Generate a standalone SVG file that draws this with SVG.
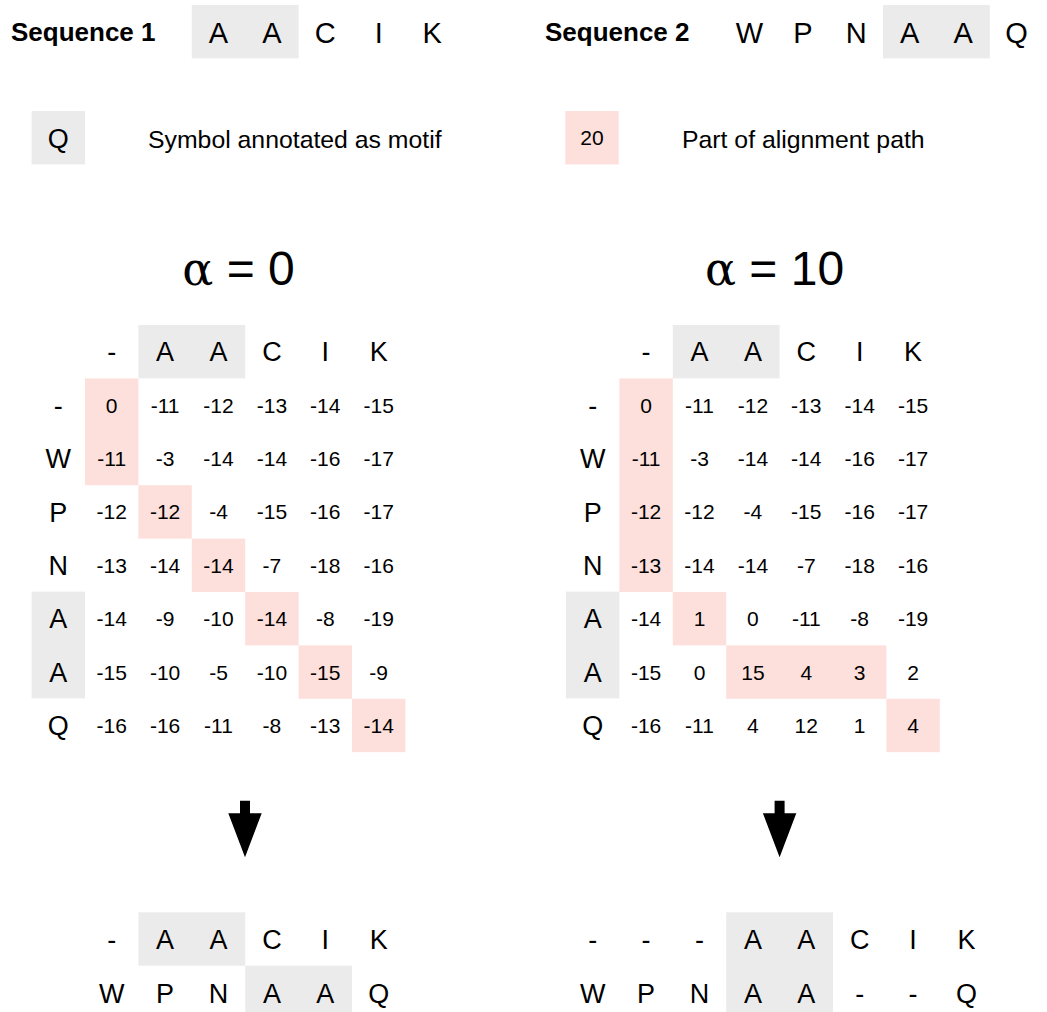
<svg xmlns="http://www.w3.org/2000/svg" width="1047" height="1012" viewBox="0 0 1047 1012">
<style>
text{font-family:"Liberation Sans",Arial,Helvetica,sans-serif;fill:#000;text-anchor:middle}
.hd{font-weight:bold;font-size:26px;text-anchor:start}
.sq{font-size:29px}
.lt{font-size:27px}
.nm{font-size:21px}
.lg{font-size:24.8px;text-anchor:start}
.ti{font-size:48px}
text tspan.al{font-family:"DejaVu Serif","Liberation Serif",serif;font-size:46px}
.g{fill:#ebebeb}
.p{fill:#fde0db}
</style>
<rect width="1047" height="1012" fill="#fff"/>

<g id="sequence1">
<text class="hd" x="11" y="41">Sequence 1</text>
<rect class="g" x="191.8" y="5" width="106.8" height="53.4"/>
<text class="sq" x="218.5" y="42.5">A</text>
<text class="sq" x="271.9" y="42.5">A</text>
<text class="sq" x="325.3" y="42.5">C</text>
<text class="sq" x="378.7" y="42.5">I</text>
<text class="sq" x="432.1" y="42.5">K</text>
</g>

<g id="sequence2">
<text class="hd" x="545" y="41">Sequence 2</text>
<rect class="g" x="883" y="5" width="106.8" height="53.4"/>
<text class="sq" x="749.5" y="42.5">W</text>
<text class="sq" x="802.9" y="42.5">P</text>
<text class="sq" x="856.3" y="42.5">N</text>
<text class="sq" x="909.7" y="42.5">A</text>
<text class="sq" x="963.1" y="42.5">A</text>
<text class="sq" x="1016.5" y="42.5">Q</text>
</g>

<g id="legend-motif">
<rect class="g" x="31.6" y="111" width="53.4" height="53.4"/>
<text class="lt" x="58.3" y="147.5">Q</text>
<text class="lg" x="148" y="148">Symbol annotated as motif</text>
</g>

<g id="legend-path">
<rect class="p" x="565.3" y="111" width="53.4" height="53.4"/>
<text class="nm" x="592" y="145">20</text>
<text class="lg" x="682" y="148">Part of alignment path</text>
</g>

<g id="matrix-alpha0">
<text class="ti" x="238.5" y="285"><tspan class="al" font-family="DejaVu Serif">α</tspan> = 0</text>
<rect class="g" x="138.4" y="325" width="106.8" height="53.4"/>
<rect class="g" x="31.6" y="591.6" width="53.4" height="106.8"/>
<rect class="p" x="85" y="378.4" width="53.4" height="106.8"/>
<rect class="p" x="138.4" y="485.2" width="53.4" height="53.4"/>
<rect class="p" x="191.8" y="538.6" width="53.4" height="53.4"/>
<rect class="p" x="245.2" y="592" width="53.4" height="53.4"/>
<rect class="p" x="298.6" y="645.4" width="53.4" height="53.4"/>
<rect class="p" x="352" y="698.8" width="53.4" height="53.4"/>
<g class="lt">
<text x="111.7" y="361.4">-</text><text x="165.1" y="361.4">A</text><text x="218.5" y="361.4">A</text><text x="271.9" y="361.4">C</text><text x="325.3" y="361.4">I</text><text x="378.7" y="361.4">K</text>
<text x="58.3" y="414.8">-</text><text x="58.3" y="468.2">W</text><text x="58.3" y="521.6">P</text><text x="58.3" y="575">N</text><text x="58.3" y="628.4">A</text><text x="58.3" y="681.8">A</text><text x="58.3" y="735.2">Q</text>
</g>
<g class="nm">
<text x="111.7" y="412.6">0</text><text x="165.1" y="412.6">-11</text><text x="218.5" y="412.6">-12</text><text x="271.9" y="412.6">-13</text><text x="325.3" y="412.6">-14</text><text x="378.7" y="412.6">-15</text>
<text x="111.7" y="466">-11</text><text x="165.1" y="466">-3</text><text x="218.5" y="466">-14</text><text x="271.9" y="466">-14</text><text x="325.3" y="466">-16</text><text x="378.7" y="466">-17</text>
<text x="111.7" y="519.4">-12</text><text x="165.1" y="519.4">-12</text><text x="218.5" y="519.4">-4</text><text x="271.9" y="519.4">-15</text><text x="325.3" y="519.4">-16</text><text x="378.7" y="519.4">-17</text>
<text x="111.7" y="572.8">-13</text><text x="165.1" y="572.8">-14</text><text x="218.5" y="572.8">-14</text><text x="271.9" y="572.8">-7</text><text x="325.3" y="572.8">-18</text><text x="378.7" y="572.8">-16</text>
<text x="111.7" y="626.2">-14</text><text x="165.1" y="626.2">-9</text><text x="218.5" y="626.2">-10</text><text x="271.9" y="626.2">-14</text><text x="325.3" y="626.2">-8</text><text x="378.7" y="626.2">-19</text>
<text x="111.7" y="679.6">-15</text><text x="165.1" y="679.6">-10</text><text x="218.5" y="679.6">-5</text><text x="271.9" y="679.6">-10</text><text x="325.3" y="679.6">-15</text><text x="378.7" y="679.6">-9</text>
<text x="111.7" y="733">-16</text><text x="165.1" y="733">-16</text><text x="218.5" y="733">-11</text><text x="271.9" y="733">-8</text><text x="325.3" y="733">-13</text><text x="378.7" y="733">-14</text>
</g>
</g>

<g id="matrix-alpha10">
<text class="ti" x="774.5" y="285"><tspan class="al" font-family="DejaVu Serif">α</tspan> = 10</text>
<rect class="g" x="672.8" y="325" width="106.8" height="53.4"/>
<rect class="g" x="566" y="591.6" width="53.4" height="106.8"/>
<rect class="p" x="619.4" y="378.4" width="53.4" height="213.6"/>
<rect class="p" x="672.8" y="592" width="53.4" height="53.4"/>
<rect class="p" x="726.2" y="645.4" width="160.2" height="53.4"/>
<rect class="p" x="886.4" y="698.8" width="53.4" height="53.4"/>
<g class="lt">
<text x="646.1" y="361.4">-</text><text x="699.5" y="361.4">A</text><text x="752.9" y="361.4">A</text><text x="806.3" y="361.4">C</text><text x="859.7" y="361.4">I</text><text x="913.1" y="361.4">K</text>
<text x="592.7" y="414.8">-</text><text x="592.7" y="468.2">W</text><text x="592.7" y="521.6">P</text><text x="592.7" y="575">N</text><text x="592.7" y="628.4">A</text><text x="592.7" y="681.8">A</text><text x="592.7" y="735.2">Q</text>
</g>
<g class="nm">
<text x="646.1" y="412.6">0</text><text x="699.5" y="412.6">-11</text><text x="752.9" y="412.6">-12</text><text x="806.3" y="412.6">-13</text><text x="859.7" y="412.6">-14</text><text x="913.1" y="412.6">-15</text>
<text x="646.1" y="466">-11</text><text x="699.5" y="466">-3</text><text x="752.9" y="466">-14</text><text x="806.3" y="466">-14</text><text x="859.7" y="466">-16</text><text x="913.1" y="466">-17</text>
<text x="646.1" y="519.4">-12</text><text x="699.5" y="519.4">-12</text><text x="752.9" y="519.4">-4</text><text x="806.3" y="519.4">-15</text><text x="859.7" y="519.4">-16</text><text x="913.1" y="519.4">-17</text>
<text x="646.1" y="572.8">-13</text><text x="699.5" y="572.8">-14</text><text x="752.9" y="572.8">-14</text><text x="806.3" y="572.8">-7</text><text x="859.7" y="572.8">-18</text><text x="913.1" y="572.8">-16</text>
<text x="646.1" y="626.2">-14</text><text x="699.5" y="626.2">1</text><text x="752.9" y="626.2">0</text><text x="806.3" y="626.2">-11</text><text x="859.7" y="626.2">-8</text><text x="913.1" y="626.2">-19</text>
<text x="646.1" y="679.6">-15</text><text x="699.5" y="679.6">0</text><text x="752.9" y="679.6">15</text><text x="806.3" y="679.6">4</text><text x="859.7" y="679.6">3</text><text x="913.1" y="679.6">2</text>
<text x="646.1" y="733">-16</text><text x="699.5" y="733">-11</text><text x="752.9" y="733">4</text><text x="806.3" y="733">12</text><text x="859.7" y="733">1</text><text x="913.1" y="733">4</text>
</g>
</g>

<g id="connectors">
<path d="M240,800.7 H250 V813.3 H261.7 L245,857.3 L228.3,813.3 H240 Z" fill="#000"/>
<path d="M774.6,800.7 H784.6 V813.3 H796.3 L779.6,857.3 L762.9,813.3 H774.6 Z" fill="#000"/>
</g>

<g id="alignment-alpha0">
<rect class="g" x="138.4" y="912.3" width="106.8" height="53.4"/>
<rect class="g" x="245.2" y="965.7" width="106.8" height="53.4"/>
<g class="lt">
<text x="111.7" y="949.3">-</text><text x="165.1" y="949.3">A</text><text x="218.5" y="949.3">A</text><text x="271.9" y="949.3">C</text><text x="325.3" y="949.3">I</text><text x="378.7" y="949.3">K</text>
<text x="111.7" y="1002.7">W</text><text x="165.1" y="1002.7">P</text><text x="218.5" y="1002.7">N</text><text x="271.9" y="1002.7">A</text><text x="325.3" y="1002.7">A</text><text x="378.7" y="1002.7">Q</text>
</g>
</g>

<g id="alignment-alpha10">
<rect class="g" x="726.2" y="912.3" width="106.8" height="106.8"/>
<g class="lt">
<text x="592.7" y="949.3">-</text><text x="646.1" y="949.3">-</text><text x="699.5" y="949.3">-</text><text x="752.9" y="949.3">A</text><text x="806.3" y="949.3">A</text><text x="859.7" y="949.3">C</text><text x="913.1" y="949.3">I</text><text x="966.5" y="949.3">K</text>
<text x="592.7" y="1002.7">W</text><text x="646.1" y="1002.7">P</text><text x="699.5" y="1002.7">N</text><text x="752.9" y="1002.7">A</text><text x="806.3" y="1002.7">A</text><text x="859.7" y="1002.7">-</text><text x="913.1" y="1002.7">-</text><text x="966.5" y="1002.7">Q</text>
</g>
</g>
</svg>
